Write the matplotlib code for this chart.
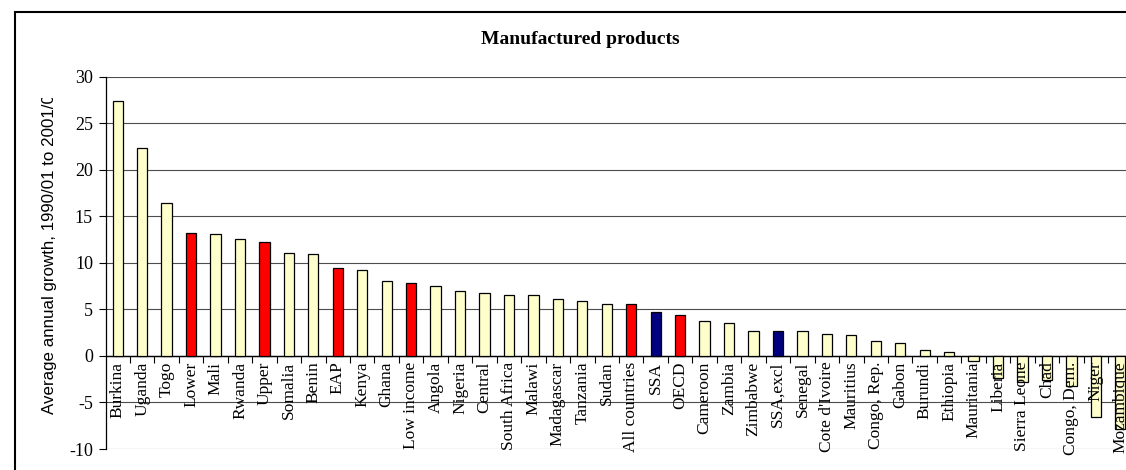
import matplotlib.pyplot as plt
from matplotlib.patches import Rectangle
from matplotlib.transforms import Bbox, TransformedBbox

# data
countries = ['Burkina', 'Uganda', 'Togo', 'Lower', 'Mali', 'Rwanda', 'Upper',
             'Somalia', 'Benin', 'EAP', 'Kenya', 'Ghana', 'Low income', 'Angola',
             'Nigeria', 'Central', 'South Africa', 'Malawi', 'Madagascar',
             'Tanzania', 'Sudan', 'All countries', 'SSA', 'OECD', 'Cameroon',
             'Zambia', 'Zimbabwe', 'SSA,excl', 'Senegal', "Cote d'Ivoire",
             'Mauritius', 'Congo, Rep.', 'Gabon', 'Burundi', 'Ethiopia',
             'Mauritania', 'Liberia', 'Sierra Leone', 'Chad', 'Congo, Dem.',
             'Niger', 'Mozambique']
growth = [27.4, 22.3, 16.4, 13.25, 13.1, 12.6, 12.2, 11.1, 10.95, 9.5, 9.2, 8.1,
          7.85, 7.55, 6.95, 6.75, 6.5, 6.5, 6.15, 5.85, 5.6, 5.6, 4.7, 4.4, 3.8,
          3.5, 2.7, 2.7, 2.7, 2.4, 2.3, 1.55, 1.35, 0.65, 0.45, -0.55, -2.4,
          -2.75, -2.6, -3.2, -6.6, -7.85]
groups_red = ['Lower', 'Upper', 'EAP', 'Low income', 'All countries', 'OECD']
groups_blue = ['SSA', 'SSA,excl']

colors = []
for c in countries:
    if c in groups_red:
        colors.append('#FF0000')
    elif c in groups_blue:
        colors.append('#000080')
    else:
        colors.append('#FFFFCC')

serif = 'Liberation Serif'
W, H = 1126, 470
fig = plt.figure(figsize=(W / 100, H / 100), dpi=100)
ax = fig.add_axes([105.5 / W, 21 / H, 1027 / W, 372.3 / H])

x = list(range(len(countries)))
ax.bar(x, growth, width=0.42, color=colors, edgecolor='black', linewidth=0.9, zorder=2)

ax.set_xlim(-0.5, len(countries) - 0.5)
ax.set_ylim(-10, 30)
ax.set_yticks(range(-10, 31, 5))
ax.set_yticklabels([str(v) for v in range(-10, 31, 5)], fontfamily=serif, fontsize=13)
ax.tick_params(axis='y', direction='out', length=5, width=0.8, pad=4)
ax.set_xticks([])
ax.yaxis.grid(True, color='0.3', linewidth=0.8)
ax.set_axisbelow(True)
for s in ['top', 'right', 'bottom']:
    ax.spines[s].set_visible(False)
ax.spines['left'].set_linewidth(0.9)

# zero line with tick marks between categories
ax.axhline(0, color='black', linewidth=1.0, zorder=1.5)
bounds = [i + 0.5 for i in x[:-1]]
ax.plot(bounds, [0] * len(bounds), linestyle='none', marker=3, markersize=5,
        color='black', markeredgewidth=0.8, clip_on=False)

for i, c in enumerate(countries):
    ax.text(i, -0.6, c, rotation=90, ha='center', va='top', fontfamily=serif,
            fontsize=12.5, zorder=4)

fig.text(580 / W, 1 - 39 / H, 'Manufactured products', ha='center', va='center',
         fontfamily=serif, fontsize=14, fontweight='bold')

yl = fig.text(50 / W, 1 - 414 / H, 'Average annual growth, 1990/01 to 2001/02',
              rotation=90, ha='center', va='bottom', fontfamily='Liberation Sans',
              fontsize=12.2)
yl.set_clip_on(True)
yl.set_clip_box(TransformedBbox(Bbox([[0, 0], [0.2, 1 - 98 / H]]), fig.transFigure))

# outer chart frame, cut off at right and bottom like the source
fig.patches.append(Rectangle((15 / W, -0.1), 2, 1 - 12 / H + 0.1, fill=False,
                             edgecolor='black', linewidth=1.5,
                             transform=fig.transFigure, figure=fig))

fig.savefig('out.png', dpi=100)
